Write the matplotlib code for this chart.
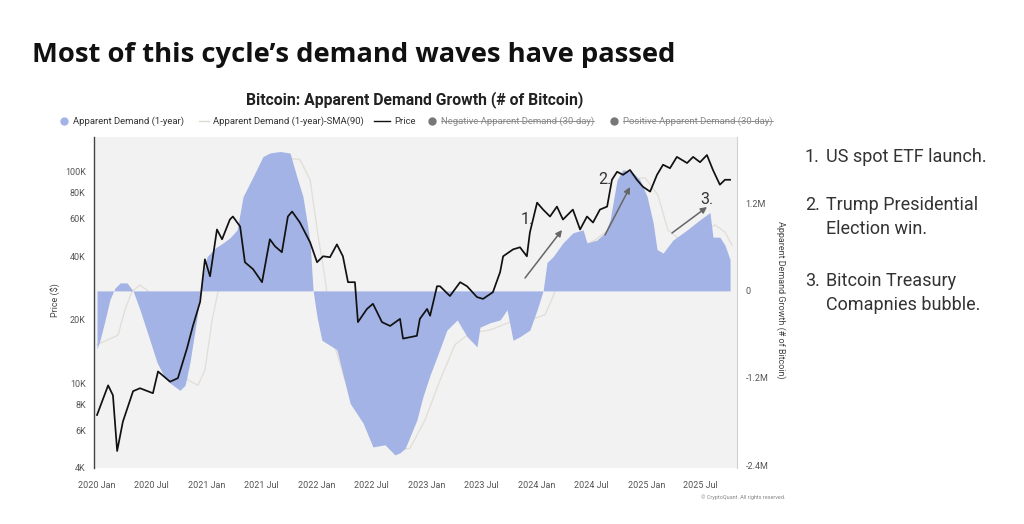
import pandas as pd
import matplotlib
matplotlib.use("Agg")
import matplotlib.pyplot as plt
import matplotlib.dates as mdates
from matplotlib.lines import Line2D
from matplotlib.ticker import FixedLocator, FixedFormatter, NullLocator

# ---- data ----
price_dates = [
    "2020-01-01", "2020-02-07", "2020-02-23", "2020-03-08", "2020-03-27", "2020-04-30",
    "2020-05-23", "2020-07-05", "2020-07-22", "2020-08-31", "2020-09-26", "2020-10-26",
    "2020-11-15", "2020-12-09", "2020-12-25", "2021-01-11", "2021-02-03", "2021-02-20",
    "2021-03-18", "2021-03-28", "2021-04-21", "2021-05-07", "2021-06-03", "2021-07-03",
    "2021-07-29", "2021-08-15", "2021-09-07", "2021-09-27", "2021-10-11", "2021-11-06",
    "2021-12-10", "2022-01-02", "2022-01-22", "2022-02-14", "2022-03-09", "2022-03-29",
    "2022-04-15", "2022-05-08", "2022-05-18", "2022-06-17", "2022-07-07", "2022-08-06",
    "2022-09-02", "2022-10-05", "2022-10-15", "2022-11-30", "2022-12-10", "2023-01-03",
    "2023-01-13", "2023-02-05", "2023-02-15", "2023-03-20", "2023-04-23", "2023-05-16",
    "2023-06-18", "2023-07-08", "2023-08-10", "2023-09-03", "2023-09-13", "2023-10-16",
    "2023-11-08", "2023-12-01", "2023-12-11", "2024-01-04", "2024-01-24", "2024-02-16",
    "2024-03-10", "2024-03-30", "2024-05-02", "2024-05-26", "2024-06-18", "2024-07-08",
    "2024-07-31", "2024-08-24", "2024-09-09", "2024-09-26", "2024-10-16", "2024-11-08",
    "2024-12-01", "2024-12-21", "2025-01-14", "2025-02-06", "2025-02-26", "2025-03-21",
    "2025-04-13", "2025-05-17", "2025-06-06", "2025-06-29", "2025-07-22", "2025-08-11",
    "2025-09-03", "2025-09-20", "2025-10-07",
]
price_usd = [
    7100, 9800, 8800, 4800, 6600, 9200,
    9500, 9000, 11400, 10200, 10600, 14600,
    18700, 24300, 38600, 32100, 53400, 48000,
    59500, 61500, 55200, 37400, 34700, 30100,
    48000, 44500, 41700, 61500, 64900, 57600,
    46400, 37400, 39900, 39500, 45400, 39900,
    30100, 30100, 19500, 22500, 23800, 19500,
    18700, 20200, 16300, 16800, 20200, 22500,
    20900, 28800, 28800, 25900, 30100, 28800,
    25600, 25100, 27000, 33600, 39900, 43000,
    44000, 39900, 51700, 71500, 66300, 61500,
    68500, 59500, 66300, 53400, 61500, 57600,
    66300, 68500, 91700, 100000, 96800, 102000,
    91700, 85000, 80600, 96800, 108000, 104000,
    117600, 110000, 117600, 111000, 120000, 102000,
    86900, 91700, 91700,
]

demand_dates = [
    "2020-01-01", "2020-01-11", "2020-01-28", "2020-02-13", "2020-03-01", "2020-03-18",
    "2020-04-10", "2020-04-30", "2020-05-23", "2020-06-25", "2020-07-19", "2020-08-14",
    "2020-08-31", "2020-10-03", "2020-10-20", "2020-11-05", "2020-11-29", "2020-12-09",
    "2021-01-01", "2021-01-28", "2021-02-23", "2021-03-18", "2021-04-11", "2021-05-01",
    "2021-06-03", "2021-07-06", "2021-07-29", "2021-09-01", "2021-10-04", "2021-10-27",
    "2021-11-16", "2021-11-30", "2021-12-10", "2021-12-16", "2021-12-20", "2022-01-02",
    "2022-01-18", "2022-03-09", "2022-04-22", "2022-06-04", "2022-07-07", "2022-08-16",
    "2022-09-18", "2022-10-05", "2022-10-22", "2022-11-07", "2022-11-30", "2022-12-20",
    "2023-01-13", "2023-02-05", "2023-03-10", "2023-04-13", "2023-05-16", "2023-06-18",
    "2023-06-28", "2023-07-31", "2023-09-03", "2023-09-26", "2023-10-16", "2023-11-08",
    "2023-12-11", "2024-01-04", "2024-01-24", "2024-02-06", "2024-02-26", "2024-03-30",
    "2024-05-02", "2024-06-05", "2024-06-18", "2024-07-21", "2024-08-17", "2024-09-03",
    "2024-09-26", "2024-10-16", "2024-11-18", "2024-12-11", "2025-01-04", "2025-01-24",
    "2025-02-06", "2025-02-26", "2025-03-31", "2025-05-17", "2025-06-29", "2025-08-01",
    "2025-08-11", "2025-09-03", "2025-09-20", "2025-10-07",
]
demand_btc = [
    -0.80e6, -0.68e6, -0.40e6, -0.12e6, 0.04e6, 0.11e6,
    0.11e6, 0.0, -0.26e6, -0.68e6, -0.99e6, -1.20e6,
    -1.27e6, -1.37e6, -1.30e6, -0.99e6, -0.36e6, 0.0,
    0.47e6, 0.59e6, 0.66e6, 0.73e6, 0.84e6, 1.30e6,
    1.57e6, 1.85e6, 1.90e6, 1.92e6, 1.90e6, 1.57e6,
    1.30e6, 0.94e6, 0.66e6, 0.25e6, 0.0, -0.36e6,
    -0.68e6, -0.81e6, -1.55e6, -1.82e6, -2.15e6, -2.12e6,
    -2.26e6, -2.23e6, -2.17e6, -2.01e6, -1.78e6, -1.46e6,
    -1.16e6, -0.91e6, -0.54e6, -0.40e6, -0.63e6, -0.77e6,
    -0.50e6, -0.44e6, -0.40e6, -0.26e6, -0.68e6, -0.63e6,
    -0.54e6, -0.26e6, 0.0, 0.39e6, 0.47e6, 0.66e6,
    0.80e6, 0.84e6, 0.66e6, 0.70e6, 0.80e6, 0.98e6,
    1.53e6, 1.67e6, 1.63e6, 1.53e6, 1.30e6, 0.94e6,
    0.57e6, 0.52e6, 0.70e6, 0.84e6, 0.98e6, 1.08e6,
    0.74e6, 0.74e6, 0.63e6, 0.43e6,
]

sma_dates = [
    "2020-01-01", "2020-02-03", "2020-03-11", "2020-04-03", "2020-04-26", "2020-05-23",
    "2020-06-19", "2020-07-29", "2020-09-16", "2020-10-30", "2020-12-02", "2020-12-25",
    "2021-01-18", "2021-02-07", "2021-03-12", "2021-04-21", "2021-06-10", "2021-07-29",
    "2021-09-17", "2021-11-06", "2021-12-10", "2022-01-05", "2022-01-28", "2022-02-24",
    "2022-04-05", "2022-05-25", "2022-07-24", "2022-09-18", "2022-11-07", "2022-12-27",
    "2023-02-15", "2023-04-06", "2023-05-26", "2023-07-31", "2023-10-06", "2023-12-11",
    "2024-01-30", "2024-02-26", "2024-03-27", "2024-05-09", "2024-07-15", "2024-09-19",
    "2024-11-08", "2024-12-28", "2025-02-09", "2025-03-14", "2025-04-23", "2025-06-29",
    "2025-08-18", "2025-09-20", "2025-10-13",
]
sma_btc = [
    -0.74e6, -0.68e6, -0.61e6, -0.26e6, -0.01e6, 0.08e6,
    0.0, -0.40e6, -0.88e6, -1.23e6, -1.30e6, -1.09e6,
    -0.40e6, 0.0, 0.50e6, 0.84e6, 1.19e6, 1.60e6,
    1.83e6, 1.81e6, 1.53e6, 0.77e6, 0.19e6, -0.68e6,
    -1.23e6, -1.71e6, -2.05e6, -2.19e6, -2.17e6, -1.78e6,
    -1.23e6, -0.74e6, -0.58e6, -0.54e6, -0.43e6, -0.40e6,
    -0.33e6, -0.08e6, 0.29e6, 0.57e6, 0.70e6, 0.91e6,
    1.53e6, 1.56e6, 1.32e6, 0.84e6, 0.70e6, 0.77e6,
    0.91e6, 0.81e6, 0.63e6,
]

x_tick_dates = ["2020-01-01", "2020-07-01", "2021-01-01", "2021-07-01", "2022-01-01",
                "2022-07-01", "2023-01-01", "2023-07-01", "2024-01-01", "2024-07-01",
                "2025-01-01", "2025-07-01"]
price_ticks = [4000, 6000, 8000, 10000, 20000, 40000, 60000, 80000, 100000]
price_tick_labels = ["4K", "6K", "8K", "10K", "20K", "40K", "60K", "80K", "100K"]
demand_ticks = [-2.4e6, -1.2e6, 0, 1.2e6]
demand_tick_labels = ["-2.4M", "-1.2M", "0", "1.2M"]

notes = [
    ("1.", ["US spot ETF launch."]),
    ("2.", ["Trump Presidential", "Election win."]),
    ("3.", ["Bitcoin Treasury", "Comapnies bubble."]),
]

FILL = "#a4b3e5"
BG = "#f2f2f2"
FONT = ["Roboto", "DejaVu Sans"]
plt.rcParams["font.family"] = FONT

W, H = 1024, 524
fig = plt.figure(figsize=(W / 100, H / 100), dpi=100)
fig.patch.set_facecolor("white")


def fx(px):
    return px / W


def fy(py):
    return 1 - py / H


L, R, T, B = 94, 737, 137, 468
ax = fig.add_axes([fx(L), fy(B), (R - L) / W, (B - T) / H])
ax.set_facecolor(BG)

# demand (right axis)
sd = pd.to_datetime(sma_dates)
dd = pd.to_datetime(demand_dates)
ax.plot(sd, sma_btc, color="#e2ddd6", lw=0.9, zorder=1)
ax.fill_between(dd, demand_btc, 0, color=FILL, lw=0, zorder=2)
ax.set_ylim(-2.44e6, 2.12e6)

ax.text(0.5, 0.49, "CryptoQuant", transform=ax.transAxes, ha="center", va="center",
        fontsize=18, fontweight="bold", color="#888888", alpha=0.12, zorder=1.5)

# price (left axis, log)
axp = ax.twinx()
axp.plot(pd.to_datetime(price_dates), price_usd, color="#111111", lw=1.25, zorder=5)
axp.set_yscale("log")
axp.set_ylim(3990, 146000)
axp.yaxis.tick_left()
axp.yaxis.set_label_position("left")
axp.yaxis.set_major_locator(FixedLocator(price_ticks))
axp.yaxis.set_major_formatter(FixedFormatter(price_tick_labels))
axp.yaxis.set_minor_locator(NullLocator())

# twinx moved these to the left, put them back on the right
ax.yaxis.tick_right()
ax.yaxis.set_label_position("right")
ax.yaxis.set_major_locator(FixedLocator(demand_ticks))
ax.yaxis.set_major_formatter(FixedFormatter(demand_tick_labels))

ax.set_xlim(pd.Timestamp("2019-12-22"), pd.Timestamp("2025-10-30"))
ax.xaxis.set_major_locator(FixedLocator(mdates.date2num(pd.to_datetime(x_tick_dates))))
ax.xaxis.set_major_formatter(mdates.DateFormatter("%Y %b"))

for a in (ax, axp):
    a.tick_params(length=0, labelsize=6.5, colors="#555555")
    for s in a.spines.values():
        s.set_visible(False)
ax.tick_params(axis="x", pad=9)
ax.tick_params(axis="y", pad=6)
axp.tick_params(axis="y", pad=6)
axp.spines["left"].set_visible(True)
axp.spines["left"].set_color("#444444")
axp.spines["left"].set_linewidth(1.0)
ax.spines["right"].set_visible(True)
ax.spines["right"].set_color("#d0d0d0")

# axis labels
fig.text(fx(56), fy(300), "Price ($)", rotation=90, ha="center", va="center",
         fontsize=6.5, color="#444444")
fig.text(fx(781), fy(300), "Apparent Demand Growth (# of Bitcoin)", rotation=270,
         ha="center", va="center", fontsize=6.5, color="#444444")
fig.text(fx(785), fy(497), "© CryptoQuant. All rights reserved.", ha="right",
         va="center", fontsize=4, color="#888888")

# titles
fig.text(fx(32), fy(55), "Most of this cycle’s demand waves have passed",
         family=["Open Sans", "DejaVu Sans"], fontweight="bold", fontsize=19.7,
         ha="left", va="center", color="#111111")
fig.text(fx(415), fy(100), "Bitcoin: Apparent Demand Growth (# of Bitcoin)",
         fontweight="bold", fontsize=11.3, ha="center", va="center", color="#222222")

# legend drawn by hand (two entries are struck through)
ly = fy(121)
fs_leg = 6.8
fig.add_artist(Line2D([fx(64)], [ly], marker="o", ms=5, color=FILL, lw=0))
fig.text(fx(73), ly, "Apparent Demand (1-year)", fontsize=fs_leg, va="center", color="#333333")
fig.add_artist(Line2D([fx(199), fx(209)], [ly, ly], color="#dedad4", lw=1.0))
fig.text(fx(213), ly, "Apparent Demand (1-year)-SMA(90)", fontsize=fs_leg, va="center",
         color="#333333")
fig.add_artist(Line2D([fx(374), fx(390)], [ly, ly], color="#111111", lw=1.0))
fig.text(fx(394), ly, "Price", fontsize=fs_leg, va="center", color="#333333")
struck = []
for cx, label in [(432, "Negative Apparent Demand (30-day)"),
                  (614, "Positive Apparent Demand (30-day)")]:
    fig.add_artist(Line2D([fx(cx)], [ly], marker="o", ms=5, color="#777777", lw=0))
    struck.append(fig.text(fx(cx + 9), ly, label, fontsize=fs_leg, va="center",
                           color="#888888"))
renderer = fig.canvas.get_renderer()
for t in struck:
    bb = t.get_window_extent(renderer)
    fig.add_artist(Line2D([bb.x0 / W, bb.x1 / W], [ly, ly], color="#888888", lw=0.6))

# event arrows
arrows = [((525, 278), (562, 230), "1.", (527, 220)),
          ((605, 235), (630, 187), "2.", (605, 180)),
          ((672, 233), (707, 207), "3.", (707, 199))]
for (x0, y0), (x1, y1), lab, (tx, ty) in arrows:
    axp.annotate("", xy=(fx(x1), fy(y1)), xytext=(fx(x0), fy(y0)),
                 xycoords="figure fraction", textcoords="figure fraction",
                 arrowprops=dict(arrowstyle="-|>", color="#666666", lw=1.1,
                                 mutation_scale=9, shrinkA=0, shrinkB=0), zorder=6)
    fig.text(fx(tx), fy(ty), lab, fontsize=11.5, ha="center", va="center", color="#333333")

# notes on the right
note_y = [157, 205, 281]
for (num, lines), y in zip(notes, note_y):
    fig.text(fx(805), fy(y), num, fontsize=13, va="center", color="#333333")
    for i, line in enumerate(lines):
        fig.text(fx(826), fy(y + 24 * i), line, fontsize=13, va="center", color="#333333")

fig.savefig("out.png", dpi=100)
